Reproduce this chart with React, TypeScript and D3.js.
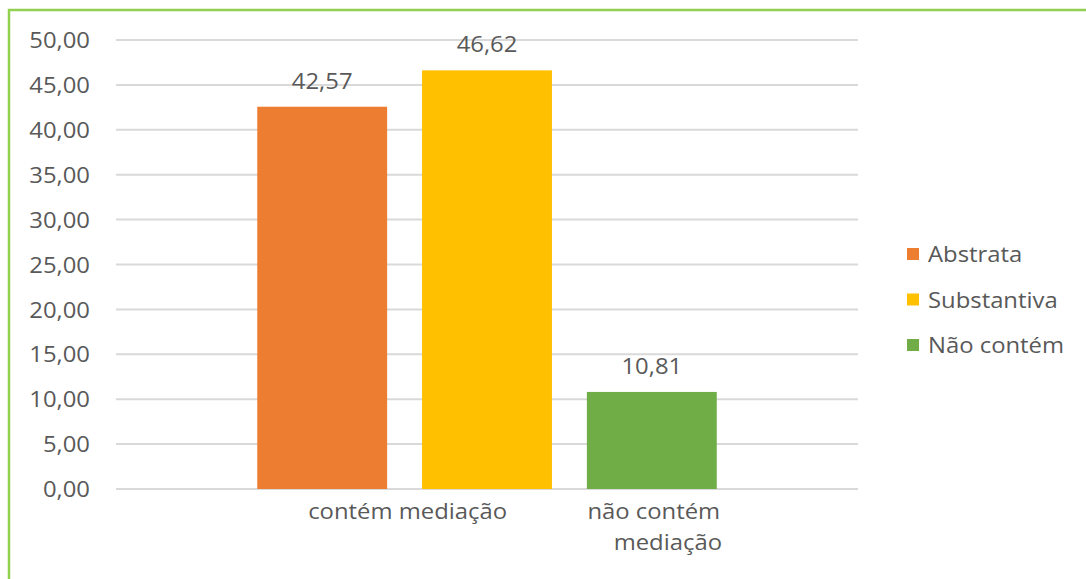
import { useEffect, useRef } from "react";
import * as d3 from "d3";

const series = ["Abstrata", "Substantiva", "Não contém"];
const values = [42.57, 46.62, 10.81];
const colors = ["#ED7D31", "#FFC000", "#70AD47"];
const yTicks = [0, 5, 10, 15, 20, 25, 30, 35, 40, 45, 50];
// which bars each category label sits under
const categories = [
  { lines: ["contém mediação"], bars: ["Abstrata", "Substantiva"] },
  { lines: ["não contém", "mediação"], bars: ["Não contém"] },
];

const fmt = (v: number) => v.toFixed(2).replace(".", ",");

export default function App() {
  const svgRef = useRef<SVGSVGElement>(null);

  useEffect(() => {
    if (!svgRef.current) return;
    const svg = d3.select(svgRef.current);
    svg.selectAll("*").remove();

    const width = 1086;
    const height = 579;
    const left = 116;
    const right = 858;
    const top = 40;
    const bottom = 489;
    const font = "'Open Sans', sans-serif";
    const fs = 22.5;
    const textColor = "#595959";

    svg.attr("width", width).attr("height", height);

    svg.append("rect").attr("width", width).attr("height", height).attr("fill", "#fff");
    // green frame, cut off on the right and bottom
    svg
      .append("rect")
      .attr("x", 9)
      .attr("y", 10)
      .attr("width", width + 20)
      .attr("height", height + 20)
      .attr("fill", "none")
      .attr("stroke", "#92D050")
      .attr("stroke-width", 2.5);

    const y = d3.scaleLinear().domain([0, 50]).range([bottom, top]);
    const x = d3
      .scaleBand<string>()
      .domain(series)
      .range([left, right])
      .paddingInner(0.212)
      .paddingOuter(0.857);

    // slightly wide text, like the original rendering
    const wide = (sel: d3.Selection<SVGTextElement, any, any, any>, anchorX: number, anchorY: number) =>
      sel.attr("transform", `translate(${anchorX},${anchorY}) scale(1.06,1)`);

    const g = svg.append("g");

    g.selectAll(".grid")
      .data(yTicks)
      .enter()
      .append("line")
      .attr("x1", left)
      .attr("x2", right)
      .attr("y1", (d) => y(d))
      .attr("y2", (d) => y(d))
      .attr("stroke", "#d9d9d9")
      .attr("stroke-width", 2);

    yTicks.forEach((t) => {
      const txt = g
        .append("text")
        .attr("dy", "0.36em")
        .attr("text-anchor", "end")
        .attr("font-family", font)
        .attr("font-size", fs)
        .attr("fill", textColor)
        .text(fmt(t));
      wide(txt, 90, y(t));
    });

    g.selectAll(".bar")
      .data(values)
      .enter()
      .append("rect")
      .attr("x", (_, i) => x(series[i]) || 0)
      .attr("y", (d) => y(d))
      .attr("width", x.bandwidth())
      .attr("height", (d) => bottom - y(d))
      .attr("fill", (_, i) => colors[i]);

    values.forEach((v, i) => {
      const txt = g
        .append("text")
        .attr("text-anchor", "middle")
        .attr("font-family", font)
        .attr("font-size", fs)
        .attr("fill", textColor)
        .text(fmt(v));
      wide(txt, (x(series[i]) || 0) + x.bandwidth() / 2, y(v) - 18);
    });

    categories.forEach((c, ci) => {
      const centers = c.bars.map((b) => (x(b) || 0) + x.bandwidth() / 2);
      const cx = d3.mean(centers) || 0;
      c.lines.forEach((line, li) => {
        const txt = g
          .append("text")
          .attr("text-anchor", "middle")
          .attr("font-family", font)
          .attr("font-size", fs)
          .attr("fill", textColor)
          .text(line);
        wide(txt, cx + (ci === 1 ? 2 + li * 14 : 3), bottom + 30 + li * 31);
      });
    });

    const legend = svg.append("g").attr("transform", "translate(907,254)");
    series.forEach((s, i) => {
      const row = legend.append("g").attr("transform", `translate(0,${i * 45.5})`);
      row.append("rect").attr("x", 0).attr("y", -6).attr("width", 12).attr("height", 12).attr("fill", colors[i]);
      const txt = row
        .append("text")
        .attr("dy", "0.36em")
        .attr("font-family", font)
        .attr("font-size", fs)
        .attr("fill", textColor)
        .text(s);
      wide(txt, 21, 0);
    });
  }, []);

  return (
    <div style={{ position: "absolute", left: 0, top: 0 }}>
      <svg ref={svgRef} style={{ display: "block" }} />
    </div>
  );
}
